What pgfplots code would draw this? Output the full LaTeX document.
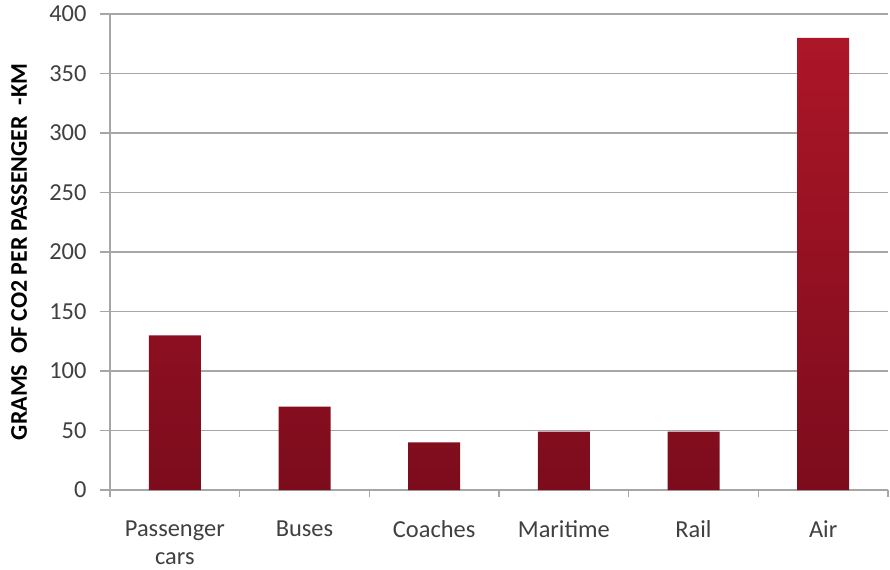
\documentclass[border=0pt]{standalone}
\usepackage{fontspec}
\setmainfont{Carlito}
\usepackage{pgfplots}
\pgfplotsset{compat=1.18}
\usetikzlibrary{calc}
\definecolor{gridgray}{HTML}{A6A6A6}
\definecolor{txtgray}{HTML}{404040}
\definecolor{bartop}{HTML}{AC1628}
\definecolor{barbot}{HTML}{7C0C1C}
\begin{document}
\begin{tikzpicture}
\begin{axis}[
  name=ax,
  scale only axis,
  width=778bp, height=476bp,
  xmin=-0.5, xmax=5.5,
  ymin=0, ymax=400,
  ytick={0,50,...,400},
  xtick={0,...,5},
  xticklabels={Passenger\\cars,Buses,Coaches,Maritime,Rail,Air},
  xticklabel style={align=center, font=\fontsize{24.5}{28}\selectfont, text=txtgray, yshift=-17bp},
  yticklabel style={font=\fontsize{24.5}{28}\selectfont, text=txtgray, xshift=-10bp},
  /pgf/number format/assume math mode=true,
  major x tick style={draw=none},
  minor xtick={-0.5,0.5,...,5.5},
  minor tick length=7bp,
  major tick length=10bp,
  tick align=outside,
  tick pos=left,
  tick style={gridgray, line width=1.2pt},
  minor tick style={gridgray, line width=1.2pt},
  axis x line*=bottom,
  axis y line*=left,
  axis line style={gridgray, line width=1.2pt},
  ymajorgrids,
  grid style={gridgray, line width=1.2pt},
  ylabel={\textbf{GRAMS\ \ OF CO2 PER PASSENGER\ \ -KM}},
  ylabel style={font=\fontsize{24}{28}\selectfont, text=black,
    at={(axis description cs:0,0.5)}, anchor=center, yshift=91bp},
  axis on top=false,
  clip=false,
]
\addplot[ybar, bar width=52bp, draw=none, top color=bartop, bottom color=barbot]
  coordinates {(0,130) (1,70) (2,40) (3,49) (4,49) (5,380)};
\end{axis}
\pgfresetboundingbox
\path ($(ax.south west)+(-110bp,-80bp)$) rectangle ($(ax.south west)+(780bp,490bp)$);
\end{tikzpicture}
\end{document}
